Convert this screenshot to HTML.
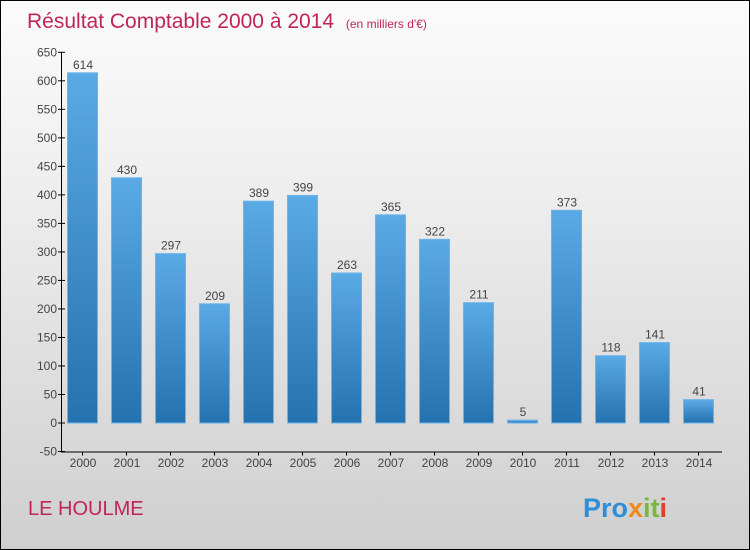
<!DOCTYPE html>
<html><head><meta charset="utf-8"><style>
body{margin:0}
#c{position:relative;width:748px;height:548px;border:1px solid #000;background:linear-gradient(#fbfbfb,#f0f0f0 30%,#cfcfcf);font-family:"Liberation Sans",sans-serif;overflow:hidden}
</style></head><body>
<div id="c">
<svg width="748" height="548" id="s">
<defs><linearGradient id="g" x1="0" y1="0" x2="0" y2="1"><stop offset="0" stop-color="#5aaae6"/><stop offset="1" stop-color="#2472b0"/></linearGradient></defs>
<text x="26" y="27" font-size="21" fill="#c0255a">Résultat Comptable 2000 à 2014 <tspan font-size="12" dx="6">(en milliers d'€)</tspan></text>
<text x="27" y="514" font-size="20" fill="#c0255a">LE HOULME</text>
<text x="582" y="516" font-size="27" font-weight="bold"><tspan fill="#2e8fd6">Pro</tspan><tspan fill="#f08a1c">x</tspan><tspan fill="#7ab83a">it</tspan><tspan fill="#e0402a">i</tspan></text>
<g id="plot"></g>
</svg></div>
<script>
const years=["2000","2001","2002","2003","2004","2005","2006","2007","2008","2009","2010","2011","2012","2013","2014"];
const values=[614,430,297,209,389,399,263,365,322,211,5,373,118,141,41];
const yTicks=[-50,0,50,100,150,200,250,300,350,400,450,500,550,600,650];
const ns="http://www.w3.org/2000/svg",p=document.getElementById('plot');
const y=v=>422-v*0.5703, x=i=>81+i*44;
function mk(t,a,txt){const e=document.createElementNS(ns,t);for(const k in a)e.setAttribute(k,a[k]);if(txt!=null)e.textContent=txt;p.appendChild(e);return e;}
let e=mk('line',{x1:60.5,y1:y(650),x2:60.5,y2:y(-50),stroke:'#000'});

e=mk('line',{x1:60,y1:y(-50)+.5,x2:721,y2:y(-50)+.5,stroke:'#000'});

yTicks.forEach(t=>{mk('line',{x1:57,x2:64,y1:y(t),y2:y(t),stroke:'#000'});
e=mk('text',{x:56,y:y(t)+4,'font-size':12,fill:'#444','text-anchor':'end'},t);
});
years.forEach((yr,i)=>{const v=values[i];
mk('line',{x1:x(i)+.5,x2:x(i)+.5,y1:y(-50),y2:y(-50)+4,stroke:'#000'});
e=mk('text',{x:x(i)+1,y:466,'font-size':12,fill:'#444','text-anchor':'middle'},yr);

e=mk('rect',{x:x(i)-14.5,y:Math.min(y(v),y(0)),width:30,height:Math.max(Math.abs(y(0)-y(v)),1),fill:'url(#g)',stroke:'#6ab4ea','stroke-width':1});

e=mk('text',{x:x(i)+1,y:y(v)-4,'font-size':12,fill:'#444','text-anchor':'middle'},v);
});
</script></body></html>
